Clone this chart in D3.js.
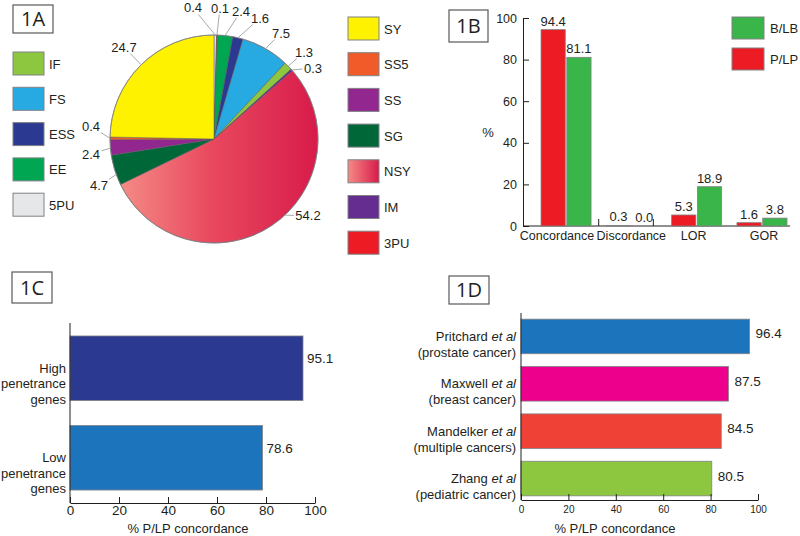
<!DOCTYPE html>
<html><head><meta charset="utf-8">
<script src="https://cdn.jsdelivr.net/npm/d3@7"></script>
<style>
html,body{margin:0;padding:0;background:#fff;}
svg text{font-family:"Liberation Sans",Arial,sans-serif;fill:#231f20;}
.tag{font-family:"Open Sans",sans-serif !important;}
</style></head>
<body><svg id="c" width="800" height="536"></svg>
<script>
// ---------- DATA ----------
// Panel A (pie), in clockwise order from 12 o'clock
const pieCategories = ["5PU","3PU","EE","ESS","FS","IF","IM","NSY","SG","SS","SS5","SY"];
const pieValues     = [0.4, 0.1, 2.4, 1.6, 7.5, 1.3, 0.3, 54.2, 4.7, 2.4, 0.4, 24.7];
const legendLeft  = ["IF","FS","ESS","EE","5PU"];
const legendRight = ["SY","SS5","SS","SG","NSY","IM","3PU"];

// Panel B
const bCategories = ["Concordance","Discordance","LOR","GOR"];
const bSeries = ["P/LP","B/LB"];
const bPLP = [94.4, 0.3, 5.3, 1.6];
const bBLB = [81.1, 0.0, 18.9, 3.8];
const bTicks = [0,20,40,60,80,100];

// Panel C
const cCategories = [["High","penetrance","genes"],["Low","penetrance","genes"]];
const cValues = [95.1, 78.6];
const cTicks = [0,20,40,60,80,100];

// Panel D
const dAuthors = ["Pritchard","Maxwell","Mandelker","Zhang"];
const dCancers = ["(prostate cancer)","(breast cancer)","(multiple cancers)","(pediatric cancer)"];
const dValues = [96.4, 87.5, 84.5, 80.5];
const dTicks = [0,20,40,60,80,100];

// ---------- STYLE / LAYOUT ----------
const pieColors = {"5PU":"#e6e7e8","3PU":"#ed1c24","EE":"#00a651","ESS":"#2b3990","FS":"#27aae1",
  "IF":"#8dc63f","IM":"#662d91","NSY":"url(#nsyGrad)","SG":"#006838","SS":"#92278f","SS5":"#f15a29","SY":"#fff200"};
// label placement (polar, degrees clockwise from top, radius) and leader anchor angle (null = slice middle)
const pieLabelPolar = [[350.9,132.7],[2.6,131],[11.9,130.8],[20.8,129.4],[32.3,125.4],[46,125.2],[54.4,121.8],
  [129.3,121.5],[247.8,124.2],[263,123.9],[276,123.7],[315.6,128.7]];
const pieAnchor = [null,null,null,null,null,null,null,137,250,265,null,null];

const svg = d3.select("#c");
const defs = svg.append("defs");
const cx=214, cy=139, R=104;
const g1 = defs.append("linearGradient").attr("id","nsyGrad").attr("gradientUnits","userSpaceOnUse")
  .attr("x1",-95).attr("y1",0).attr("x2",R).attr("y2",0);
g1.append("stop").attr("offset","0").attr("stop-color","#f48c86");
g1.append("stop").attr("offset","0.45").attr("stop-color","#e94a5f");
g1.append("stop").attr("offset","1").attr("stop-color","#d81b4a");
const g2 = defs.append("linearGradient").attr("id","nsyLeg").attr("x1","0").attr("x2","1").attr("y1","0").attr("y2","0");
g2.append("stop").attr("offset","0").attr("stop-color","#f58a86");
g2.append("stop").attr("offset","1").attr("stop-color","#d81b4a");

function tag(x,y,w,h,t){
  svg.append("rect").attr("x",x).attr("y",y).attr("width",w).attr("height",h)
    .attr("fill","#fff").attr("stroke","#58595b").attr("stroke-width",1.2);
  svg.append("text").attr("class","tag").attr("x",x+w/2).attr("y",y+h/2+7)
    .attr("text-anchor","middle").attr("font-size",20).text(t);
}

// ---------- PANEL A ----------
tag(13,5,40,28,"1A");
const pie = d3.pie().sort(null).value(d=>d);
const arcs = pie(pieValues);
const arc = d3.arc().innerRadius(0).outerRadius(R);
const gA = svg.append("g").attr("transform",`translate(${cx},${cy})`);
gA.selectAll("path").data(arcs).join("path")
  .attr("d",arc)
  .attr("fill",(d,i)=>pieColors[pieCategories[i]])
  .attr("stroke","#58595b").attr("stroke-width",0.5);
gA.append("circle").attr("r",R).attr("fill","none").attr("stroke","#808285").attr("stroke-width",0.8);

const rad = a=>a*Math.PI/180;
arcs.forEach((d,i)=>{
  const [la,lr] = pieLabelPolar[i];
  const lx = lr*Math.sin(rad(la)), ly = -lr*Math.cos(rad(la));
  const aa = pieAnchor[i]!==null ? rad(pieAnchor[i]) : (d.startAngle+d.endAngle)/2;
  const ax = R*Math.sin(aa), ay = -R*Math.cos(aa);
  const t = gA.append("text").attr("x",lx).attr("y",ly+4.5).attr("text-anchor","middle")
    .attr("font-size",13).text(d3.format(".1f")(pieValues[i]));
  const w = t.node().getComputedTextLength();
  const hw=w/2+1.5, hh=6.5;
  const dx=ax-lx, dy=ay-ly;
  const tt=Math.min(Math.abs(dx)>0?hw/Math.abs(dx):1e9, Math.abs(dy)>0?hh/Math.abs(dy):1e9);
  gA.append("line").attr("x1",ax).attr("y1",ay).attr("x2",lx+dx*tt).attr("y2",ly+dy*tt)
    .attr("stroke","#a7a9ac").attr("stroke-width",1);
});

function legend(list,x,y0,step){
  list.forEach((k,i)=>{
    const y=y0+i*step;
    svg.append("rect").attr("x",x).attr("y",y).attr("width",31).attr("height",23)
      .attr("fill",k==="NSY"?"url(#nsyLeg)":pieColors[k]).attr("stroke","#808285").attr("stroke-width",1);
    svg.append("text").attr("x",x+36).attr("y",y+16.5).attr("font-size",13).text(k);
  });
}
legend(legendLeft,13,52,35.3);
legend(legendRight,348,17,35.7);

// ---------- PANEL B ----------
tag(449,10,39,32,"1B");
const yB = d3.scaleLinear().domain([0,100]).range([226,18]);
const xB = d3.scaleBand().domain(bCategories).range([523,805]).paddingInner(0.234).paddingOuter(0.276);
const xBs = d3.scaleBand().domain(bSeries).range([0,xB.bandwidth()]).paddingInner(0.06);
const gB = svg.append("g");
gB.append("g").attr("transform","translate(523,0)")
  .call(d3.axisLeft(yB).tickValues(bTicks).tickSizeInner(-6).tickSizeOuter(0).tickPadding(6))
  .call(s=>{s.select(".domain").attr("stroke","#231f20");s.selectAll(".tick line").attr("stroke","#231f20");
    s.selectAll("text").attr("font-size",12.5).attr("fill","#231f20").attr("font-family","Liberation Sans, Arial");});
gB.append("line").attr("x1",523).attr("x2",790).attr("y1",yB(0)).attr("y2",yB(0)).attr("stroke","#231f20");
// small separators
[xB(bCategories[0])+xB.bandwidth()+ (xB.step()-xB.bandwidth())/2, xB(bCategories[1])+xB.bandwidth()-3].forEach(x=>{
  gB.append("line").attr("x1",x).attr("x2",x).attr("y1",yB(0)).attr("y2",yB(0)-7).attr("stroke","#231f20");
});
const bColor = {"P/LP":"#ed1c24","B/LB":"#39b54a"};
bCategories.forEach((c,i)=>{
  const vals = {"P/LP":bPLP[i],"B/LB":bBLB[i]};
  bSeries.forEach(s=>{
    const x=xB(c)+xBs(s), v=vals[s];
    gB.append("rect").attr("x",x).attr("y",yB(v)).attr("width",xBs.bandwidth()).attr("height",yB(0)-yB(v))
      .attr("fill",bColor[s]).attr("stroke","#808285").attr("stroke-width",0.8);
    gB.append("text").attr("x",x+xBs.bandwidth()/2).attr("y",yB(v)-4).attr("text-anchor","middle")
      .attr("font-size",13).text(d3.format(".1f")(v));
  });
});
const bLabelShift=[-9,0,-3,2];
bCategories.forEach((c,i)=>{
  gB.append("text").attr("x",xB(c)+xB.bandwidth()/2+bLabelShift[i]).attr("y",240).attr("text-anchor","middle")
    .attr("font-size",12.5).text(c);
});
gB.append("text").attr("x",488).attr("y",137).attr("text-anchor","middle").attr("font-size",13).text("%");
[["B/LB",17],["P/LP",48]].forEach(([s,y])=>{
  gB.append("rect").attr("x",732).attr("y",y).attr("width",32).attr("height",22)
    .attr("fill",bColor[s]).attr("stroke","#808285").attr("stroke-width",1);
  gB.append("text").attr("x",770).attr("y",y+15.5).attr("font-size",13).text(s);
});

// ---------- PANEL C ----------
tag(12,272,40,31,"1C");
const xC = d3.scaleLinear().domain([0,100]).range([70,315]);
const yC = d3.scaleBand().domain(d3.range(cValues.length)).range([323,503]).paddingInner(0.278).paddingOuter(0.145);
const cColors=["#2b3990","#1c75bc"];
const gC = svg.append("g");
cValues.forEach((v,i)=>{
  gC.append("rect").attr("x",xC(0)).attr("y",yC(i)).attr("width",xC(v)-xC(0)).attr("height",yC.bandwidth())
    .attr("fill",cColors[i]).attr("stroke","#808285").attr("stroke-width",0.8);
  gC.append("text").attr("x",xC(v)+4).attr("y",yC(i)+yC.bandwidth()/2-5).attr("font-size",13.5).text(v.toFixed(1));
  cCategories[i].forEach((ln,j)=>{
    gC.append("text").attr("x",66).attr("y",yC(i)+yC.bandwidth()/2+4.5+j*15.5).attr("text-anchor","end")
      .attr("font-size",13).text(ln);
  });
});
gC.append("g").attr("transform","translate(0,503)")
  .call(d3.axisBottom(xC).tickValues(cTicks).tickSizeInner(-6).tickSizeOuter(0).tickPadding(2))
  .call(s=>{s.select(".domain").attr("stroke","#231f20");s.selectAll(".tick line").attr("stroke","#231f20");
    s.selectAll("text").attr("font-size",13.5).attr("fill","#231f20").attr("font-family","Liberation Sans, Arial");});
gC.append("line").attr("x1",70).attr("x2",70).attr("y1",323).attr("y2",503).attr("stroke","#231f20");
gC.append("text").attr("x",188).attr("y",533).attr("text-anchor","middle").attr("font-size",13).text("% P/LP concordance");

// ---------- PANEL D ----------
tag(449,276,40,28,"1D");
const xD = d3.scaleLinear().domain([0,100]).range([521,758]);
const yD = d3.scaleBand().domain(d3.range(dValues.length)).range([313,502]).paddingInner(0.27).paddingOuter(0.13);
const dColors=["#1c75bc","#ec008c","#ef4136","#8dc63f"];
const gD = svg.append("g");
dValues.forEach((v,i)=>{
  gD.append("rect").attr("x",xD(0)).attr("y",yD(i)).attr("width",xD(v)-xD(0)).attr("height",yD.bandwidth())
    .attr("fill",dColors[i]).attr("stroke","#808285").attr("stroke-width",0.8);
  gD.append("text").attr("x",xD(v)+6).attr("y",yD(i)+yD.bandwidth()/2+2).attr("font-size",13.5).text(v.toFixed(1));
  const yy=yD(i)+yD.bandwidth()/2+4.5;
  const t1=gD.append("text").attr("x",516).attr("y",yy).attr("text-anchor","end").attr("font-size",13);
  t1.append("tspan").text(dAuthors[i]+" ");
  t1.append("tspan").attr("font-style","italic").text("et al");
  gD.append("text").attr("x",516).attr("y",yy+16).attr("text-anchor","end").attr("font-size",13).text(dCancers[i]);
});
gD.append("g").attr("transform","translate(0,500)")
  .call(d3.axisBottom(xD).tickValues(dTicks).tickSizeInner(-6).tickSizeOuter(0).tickPadding(6))
  .call(s=>{s.select(".domain").attr("stroke","#231f20");s.selectAll(".tick line").attr("stroke","#231f20");
    s.selectAll("text").attr("font-size",10).attr("fill","#231f20").attr("font-family","Liberation Sans, Arial");});
gD.append("line").attr("x1",521).attr("x2",521).attr("y1",313).attr("y2",500).attr("stroke","#231f20");
gD.append("text").attr("x",615).attr("y",533).attr("text-anchor","middle").attr("font-size",13).text("% P/LP concordance");
</script></body></html>
